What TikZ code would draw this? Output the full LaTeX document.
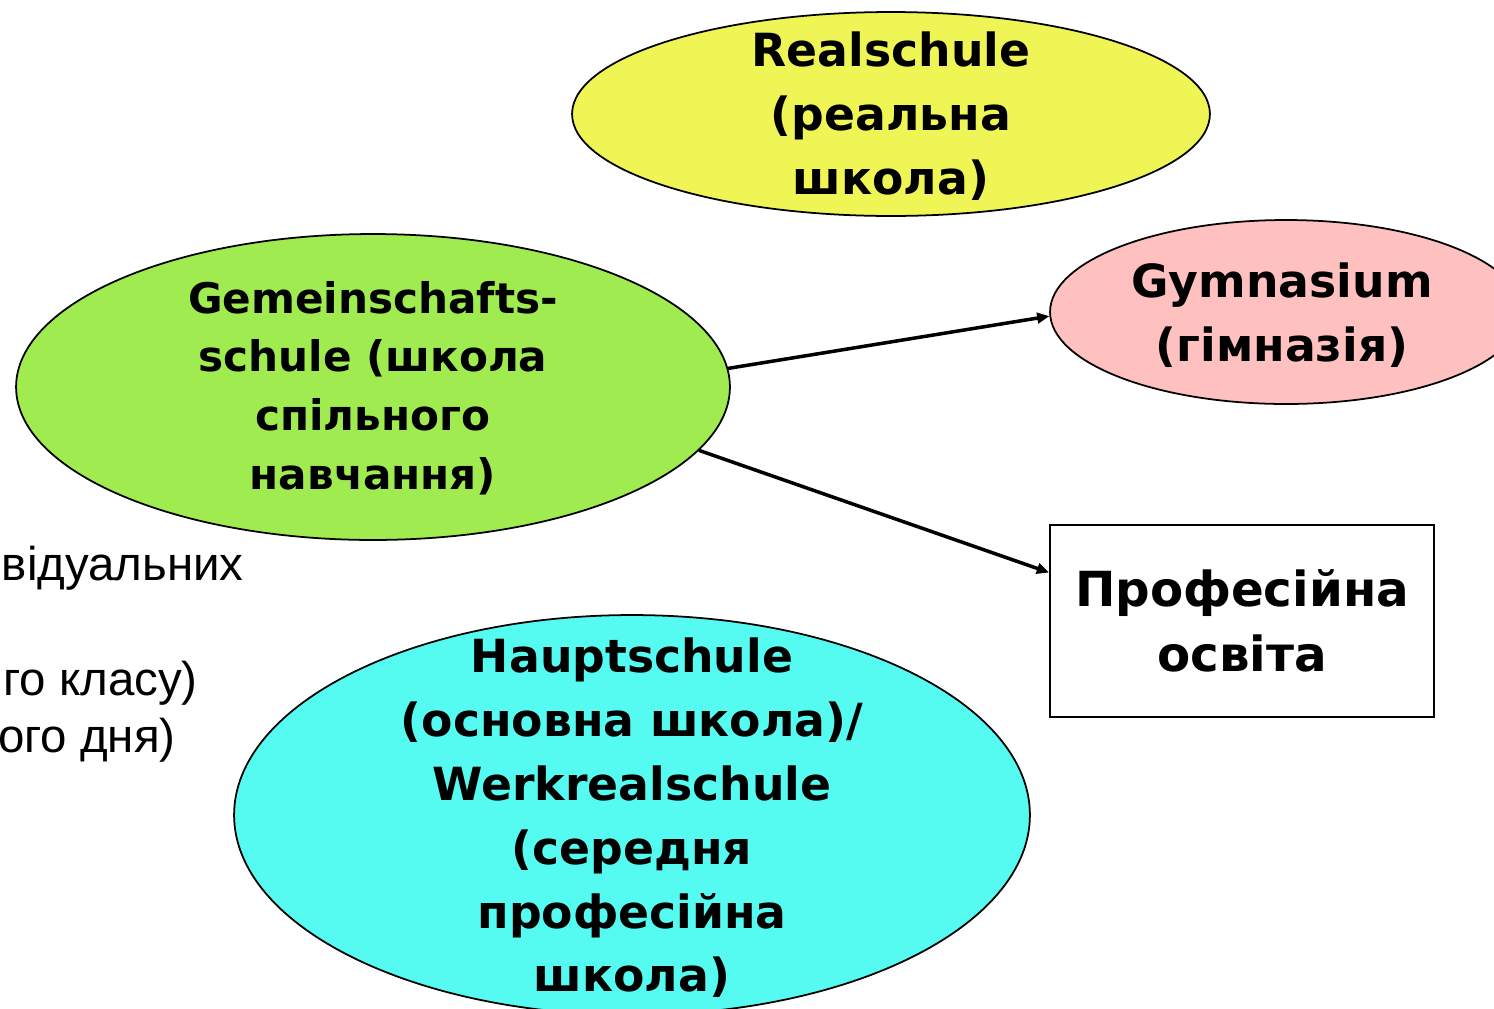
\documentclass[tikz,border=0pt]{standalone}
\usepackage{fontspec}
\setmainfont{DejaVu Sans}
\newfontfamily\leftfont{Liberation Sans}
\usetikzlibrary{shapes.geometric,arrows.meta,calc}
\definecolor{cYellow}{HTML}{EEF555}
\definecolor{cGreen}{HTML}{A0EC50}
\definecolor{cPink}{HTML}{FFC0C0}
\definecolor{cCyan}{HTML}{55FAF0}
\tikzset{
  oval/.style={ellipse, draw=black, line width=1pt, inner sep=0pt},
  lbl/.style={font=\bfseries\fontsize{26}{36.3}\selectfont, align=center, inner sep=0pt, text=black},
  lblsmall/.style={font=\bfseries\fontsize{24}{33.4}\selectfont, align=center, inner sep=0pt, text=black},
  profbox/.style={rectangle, draw=black, line width=1.1pt, fill=white, minimum width=7.68cm, minimum height=3.84cm, align=center, font=\bfseries\fontsize{27.5}{36.8}\selectfont},
  lefttxt/.style={font=\leftfont\fontsize{27}{30}\selectfont, inner sep=0pt, anchor=base east},
  arr/.style={-{Triangle[length=7pt,width=6pt]}, line width=2pt}
}
\begin{document}
\begin{tikzpicture}[x=0.02cm,y=-0.02cm]
\useasboundingbox (0,0) rectangle (1494,1008);
\fill[white] (0,0) rectangle (1494,1008);
% partial text on the left
\node[lefttxt] (l1) at (244,580) {відуальних};
\node[lefttxt] (l2) at (198,695) {го класу)};
\node[lefttxt] (l3) at (176,752) {ого дня)};
% ellipses
\node[oval, fill=cYellow, minimum width=12.76cm, minimum height=4.08cm] (real) at (891,114) {};
\node[lbl] (realT) at (891,116) {Realschule\\(реальна\\школа)};
\node[oval, fill=cGreen, minimum width=14.28cm, minimum height=6.12cm] (gem) at (373,387) {};
\node[lblsmall] (gemT) at (373,388) {Gemeinschafts-\\schule (школа\\спільного\\навчання)};
\node[oval, fill=cPink, minimum width=9.44cm, minimum height=3.68cm] (gym) at (1286,312) {};
\node[lbl] (gymT) at (1282,315) {Gymnasium\\(гімназія)};
\node[oval, fill=cCyan, minimum width=15.92cm, minimum height=8.0cm] (haupt) at (632,815) {};
\node[lbl] (hauptT) at (632,818) {Hauptschule\\(основна школа)/\\Werkrealschule\\(середня\\професійна\\школа)};
\node[profbox] (prof) at (1242,621) {Професійна\\освіта};
% arrows
\draw[arr] (gem.3) -- (gym.181);
\draw[arr] (gem.-11) -- ($(prof.north west)!0.25!(prof.south west)$);
\end{tikzpicture}
\end{document}
